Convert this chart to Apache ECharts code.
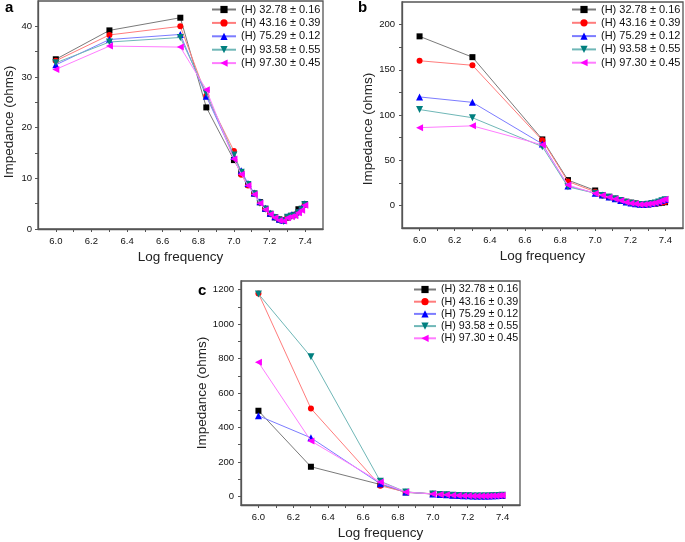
<!DOCTYPE html>
<html><head><meta charset="utf-8">
<script src="https://cdn.jsdelivr.net/npm/echarts@6/dist/echarts.min.js"></script>
<style>html,body{margin:0;padding:0;background:#fff}#chart{width:685px;height:542px}</style>
</head><body><div id="chart"></div>
<script>
// ---------- data ----------
const logFrequency = [6.0, 6.301, 6.699, 6.845, 7.0, 7.041, 7.079, 7.114, 7.146, 7.176, 7.204, 7.230, 7.255, 7.279, 7.301, 7.322, 7.342, 7.362, 7.380, 7.398];
const seriesNames = ['(H) 32.78 ± 0.16', '(H) 43.16 ± 0.39', '(H) 75.29 ± 0.12', '(H) 93.58 ± 0.55', '(H) 97.30 ± 0.45'];

// panel a
const a_H3278 = [33.5, 39.2, 41.7, 24.0, 13.6, 11.0, 8.8, 7.0, 5.3, 4.0, 3.0, 2.3, 1.9, 1.7, 2.3, 2.6, 2.8, 3.9, 4.0, 4.9];
const a_H4316 = [33.2, 38.3, 40.0, 26.3, 15.4, 10.7, 8.6, 7.0, 5.2, 4.0, 3.0, 2.3, 1.8, 1.6, 2.2, 2.5, 2.7, 3.3, 3.9, 4.8];
const a_H7529 = [32.4, 37.4, 38.4, 26.2, 14.3, 11.5, 9.0, 7.1, 5.4, 4.1, 3.1, 2.4, 1.9, 1.7, 2.4, 2.8, 2.9, 3.4, 4.1, 5.0];
const a_H9358 = [32.8, 36.9, 37.8, 26.8, 14.6, 11.2, 8.8, 6.9, 5.1, 3.9, 2.9, 2.2, 1.7, 1.5, 2.3, 2.5, 2.6, 3.2, 3.8, 4.8];
const a_H9730 = [31.5, 36.1, 35.9, 27.5, 13.8, 10.8, 8.6, 6.8, 5.1, 3.8, 2.9, 2.2, 1.7, 1.6, 2.2, 2.4, 2.6, 3.2, 3.7, 4.7];

// panel b
const b_H3278 = [187, 164, 73, 28, 16.5, 11.5, 9.5, 7.5, 5.5, 4.0, 3.0, 2.0, 1.5, 1.2, 1.2, 1.5, 2.0, 2.5, 3.0, 3.5];
const b_H4316 = [160, 155, 72, 26.5, 15, 11, 9, 7, 5.5, 4.0, 2.8, 2.0, 1.5, 1.2, 1.3, 1.6, 2.2, 2.8, 3.3, 3.8];
const b_H7529 = [120, 114, 68, 21.5, 13.5, 11.5, 9.2, 7.3, 5.5, 3.7, 2.6, 1.8, 1.2, 1.1, 1.5, 2.2, 2.9, 4.0, 5.5, 6.6];
const b_H9358 = [106, 97, 65, 20.5, 13.5, 11, 9, 7, 5.3, 3.5, 2.4, 1.6, 1.0, 0.9, 1.3, 2.0, 2.7, 3.8, 5.2, 6.3];
const b_H9730 = [86, 88, 67, 22.5, 13.3, 11.3, 9.1, 7.2, 5.5, 3.6, 2.5, 1.8, 1.1, 1.1, 1.5, 2.2, 2.9, 4.1, 5.6, 6.7];

// panel c
const c_H3278 = [497, 172, 69, 23, 14, 11, 9, 7, 5.5, 4.0, 3.0, 2.3, 1.8, 1.6, 2.0, 2.5, 3.0, 3.5, 4.0, 4.5];
const c_H4316 = [1178, 510, 62, 25, 15, 11, 9, 7, 5.5, 4.0, 3.0, 2.2, 1.8, 1.6, 2.0, 2.6, 3.2, 4.0, 4.8, 5.5];
const c_H7529 = [468, 340, 73, 25, 14, 11, 9, 7, 5.5, 4.1, 3.0, 2.3, 1.9, 1.7, 2.1, 2.7, 3.4, 4.4, 5.5, 7.0];
const c_H9358 = [1175, 810, 88, 26, 14.5, 11.2, 9, 7, 5.4, 4.0, 3.0, 2.2, 1.8, 1.6, 2.0, 2.6, 3.3, 4.3, 5.4, 6.8];
const c_H9730 = [778, 322, 83, 25, 14, 11, 9, 7, 5.5, 4.1, 3.0, 2.3, 1.9, 1.7, 2.1, 2.7, 3.4, 4.4, 5.6, 7.2];

// ticks
const xTickLabels = [6.0, 6.2, 6.4, 6.6, 6.8, 7.0, 7.2, 7.4];
const xTickMarks = [6.0, 6.1, 6.2, 6.3, 6.4, 6.5, 6.6, 6.7, 6.8, 6.9, 7.0, 7.1, 7.2, 7.3, 7.4];
const yTickLabelsA = [0, 10, 20, 30, 40];
const yTickMarksA = [0, 5, 10, 15, 20, 25, 30, 35, 40];
const yTickLabelsB = [0, 50, 100, 150, 200];
const yTickMarksB = [0, 25, 50, 75, 100, 125, 150, 175, 200];
const yTickLabelsC = [0, 200, 400, 600, 800, 1000, 1200];
const yTickMarksC = [0, 100, 200, 300, 400, 500, 600, 700, 800, 900, 1000, 1100, 1200];

// ---------- styling ----------
const FONT = '"Liberation Sans", Arial, sans-serif';
const markerColors = ['#000000', '#ff0000', '#0000ff', '#007f7f', '#ff00ff'];
const lineColors = ['#7a7a7a', '#ff7c7c', '#7c7cff', '#6fb7b7', '#ff7cff'];
const symbols = ['rect', 'circle', 'triangle', 'triangle', 'triangle'];
const symbolRotates = [0, 0, 0, 180, 90];
const symbolSizes = [6, 6, 7, 7, 7];
const frameColor = '#555';

const panels = [
  { grid: {left: 38, top: 1, width: 285, height: 228}, yMin: 0, yMax: 45, yLabels: yTickLabelsA, yTicks: yTickMarksA, yLabelMargin: 6, yNameGap: 22, yNameShift: 14, data: [a_H3278, a_H4316, a_H7529, a_H9358, a_H9730] },
  { grid: {left: 402, top: 2, width: 281, height: 226}, yMin: -25, yMax: 225, yLabels: yTickLabelsB, yTicks: yTickMarksB, yLabelMargin: 7, yNameGap: 26, yNameShift: 28, data: [b_H3278, b_H4316, b_H7529, b_H9358, b_H9730] },
  { grid: {left: 241, top: 281, width: 279, height: 224}, yMin: -50, yMax: 1250, yLabels: yTickLabelsC, yTicks: yTickMarksC, yLabelMargin: 7, yNameGap: 25, yNameShift: 0, data: [c_H3278, c_H4316, c_H7529, c_H9358, c_H9730] }
];

const grids = [], xAxes = [], yAxes = [], series = [];
panels.forEach((p, pi) => {
  grids.push(Object.assign({show: true, borderColor: frameColor, borderWidth: 1.3, backgroundColor: '#fff'}, p.grid));
  xAxes.push({
    type: 'value', gridIndex: pi, min: 5.9, max: 7.5,
    name: 'Log frequency', nameLocation: 'middle', nameGap: 21,
    nameTextStyle: {fontFamily: FONT, fontSize: 13.5, color: '#222'},
    axisLine: {show: true, onZero: false, lineStyle: {color: frameColor, width: 1.3}},
    axisTick: {show: true, inside: false, length: 3, customValues: xTickMarks, lineStyle: {color: frameColor, width: 1}},
    axisLabel: {show: true, customValues: xTickLabels, margin: 7, fontFamily: FONT, fontSize: 9.5, color: '#111',
      formatter: v => Number(v).toFixed(1)},
    splitLine: {show: false}
  });
  yAxes.push({
    type: 'value', gridIndex: pi, min: p.yMin, max: p.yMax,
    name: 'Impedance (ohms)', nameLocation: 'middle', nameGap: p.yNameGap,
    nameTextStyle: {fontFamily: FONT, fontSize: 13.5, color: '#222', padding: [0, p.yNameShift, 0, 0]},
    axisLine: {show: true, onZero: false, lineStyle: {color: frameColor, width: 1.3}},
    axisTick: {show: true, inside: false, length: 3, customValues: p.yTicks, lineStyle: {color: frameColor, width: 1}},
    axisLabel: {show: true, customValues: p.yLabels, margin: p.yLabelMargin, fontFamily: FONT, fontSize: 9.5, color: '#111',
      formatter: v => String(v)},
    splitLine: {show: false}
  });
  p.data.forEach((vals, si) => {
    series.push({
      type: 'line', name: seriesNames[si], xAxisIndex: pi, yAxisIndex: pi,
      data: logFrequency.map((x, k) => [x, vals[k]]),
      symbol: symbols[si], symbolRotate: symbolRotates[si], symbolSize: symbolSizes[si],
      showAllSymbol: true,
      lineStyle: {color: lineColors[si], width: 1},
      itemStyle: {color: markerColors[si]},
      emphasis: {disabled: true},
      z: 2 + si
    });
  });
});

const legendBase = {
  orient: 'vertical', data: seriesNames, selectedMode: false,
  itemWidth: 24, itemHeight: 9, padding: 0,
  textStyle: {fontFamily: FONT, fontSize: 11, color: '#111'}
};
const legends = [
  Object.assign({}, legendBase, {left: 211, top: 4, itemGap: 2.4}),
  Object.assign({}, legendBase, {left: 571, top: 4, itemGap: 2.3}),
  Object.assign({}, legendBase, {left: 413, top: 284, itemGap: 1.2, itemWidth: 22,
    textStyle: {fontFamily: FONT, fontSize: 10.7, color: '#111'}})
];

const chart = echarts.init(document.getElementById('chart'), null, {renderer: 'canvas'});
chart.setOption({
  animation: false,
  backgroundColor: '#fff',
  grid: grids, xAxis: xAxes, yAxis: yAxes, series: series, legend: legends,
  graphic: [
    {type: 'text', left: 5, top: 0, style: {text: 'a', font: 'bold 15px ' + FONT, fill: '#000'}},
    {type: 'text', left: 358, top: 0, style: {text: 'b', font: 'bold 15px ' + FONT, fill: '#000'}},
    {type: 'text', left: 198, top: 283, style: {text: 'c', font: 'bold 15px ' + FONT, fill: '#000'}}
  ]
});
</script></body></html>
